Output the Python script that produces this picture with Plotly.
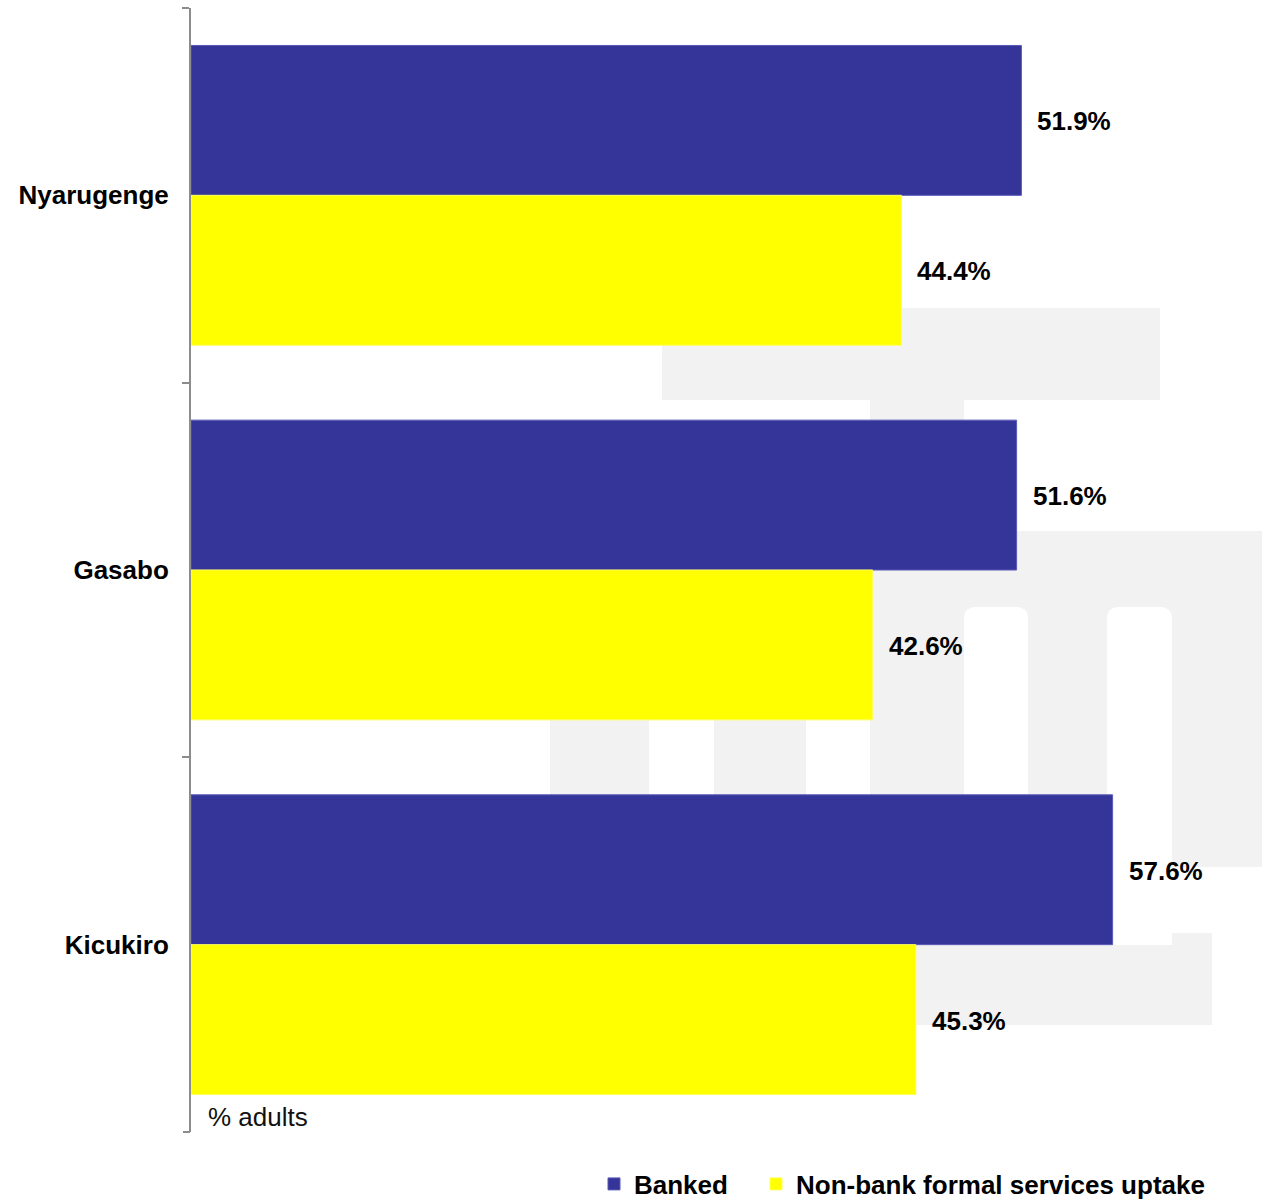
import plotly.graph_objects as go

# ---- data -------------------------------------------------------------
districts = ["Nyarugenge", "Gasabo", "Kicukiro"]
banked = [51.9, 51.6, 57.6]
non_bank = [44.4, 42.6, 45.3]
series_names = ["Banked", "Non-bank formal services uptake"]
unit_note = "% adults"

# ---- styling ----------------------------------------------------------
BLUE = "#353599"
YELLOW = "#FFFF00"
LOGO_GREY = "#F2F2F2"
AXIS_GREY = "#8C8C8C"
FONT = "Liberation Sans, Arial, Helvetica, sans-serif"

W, H = 1262, 1199
PLOT_L, PLOT_R, PLOT_T, PLOT_B = 191, 1262, 8, 1132
PX_PER_UNIT = 16.0
TICK_LEN = 7


def fx(px):
    return (px - PLOT_L) / (PLOT_R - PLOT_L)


def fy(py):
    return (PLOT_B - py) / (PLOT_B - PLOT_T)


fig = go.Figure()

fig.add_trace(go.Bar(
    name=series_names[0], y=districts, x=banked, orientation="h",
    marker=dict(color=BLUE, line=dict(color="#5A5AB8", width=1)),
    hoverinfo="skip", legend="legend",
))
fig.add_trace(go.Bar(
    name=series_names[1], y=districts, x=non_bank, orientation="h",
    marker=dict(color=YELLOW, line=dict(color="#FFFF55", width=1)),
    hoverinfo="skip", legend="legend2",
))

# value labels placed just beyond the end of each bar
label_font = dict(family=FONT, size=26, color="#000000")
for i, (b, n) in enumerate(zip(banked, non_bank)):
    for val, off in ((b, -0.2), (n, 0.2)):
        fig.add_annotation(
            x=val, y=i + off, xref="x", yref="y",
            text=f"<b>{val:.1f}%</b>", showarrow=False,
            xanchor="left", yanchor="middle", xshift=14, yshift=-1,
            font=label_font,
        )

fig.add_annotation(
    x=0, y=0, xref="paper", yref="paper", text=unit_note, showarrow=False,
    xanchor="left", yanchor="middle", xshift=15, yshift=15,
    font=dict(family=FONT, size=26, color="#111111"),
)

# faint background logo built from grey blocks with rounded white cut-outs
grey_blocks = [
    (662, 308, 1160, 400),
    (870, 398, 964, 535),
    (550, 531, 1262, 867),
    (550, 860, 1110, 940),
    (550, 933, 1212, 1025),
]
shapes = []
for x0, y0, x1, y1 in grey_blocks:
    shapes.append(dict(
        type="rect", xref="paper", yref="paper", layer="below",
        x0=fx(x0), x1=fx(x1), y0=fy(y1), y1=fy(y0),
        fillcolor=LOGO_GREY, line=dict(width=0),
    ))

holes = [(649, 714), (806, 870), (964, 1028), (1107, 1172)]
hole_top, hole_bottom, r = 607, 945, 12
for x0, x1 in holes:
    rx = r / (PLOT_R - PLOT_L)
    ry = r / (PLOT_B - PLOT_T)
    X0, X1 = fx(x0), fx(x1)
    Yt, Yb = fy(hole_top), fy(hole_bottom)
    path = (f"M{X0},{Yb} L{X0},{Yt - ry} Q{X0},{Yt} {X0 + rx},{Yt} "
            f"L{X1 - rx},{Yt} Q{X1},{Yt} {X1},{Yt - ry} L{X1},{Yb} Z")
    shapes.append(dict(
        type="path", xref="paper", yref="paper", layer="below",
        path=path, fillcolor="#FFFFFF", line=dict(width=0),
    ))
# right-hand column stops short of the lower block
shapes.append(dict(
    type="rect", xref="paper", yref="paper", layer="below",
    x0=fx(1113), x1=fx(1262), y0=fy(933), y1=fy(867),
    fillcolor="#FFFFFF", line=dict(width=0),
))
# closing tick at the lower end of the category axis
shapes.append(dict(
    type="line", xref="paper", yref="paper", layer="above",
    x0=fx(PLOT_L - 1 - TICK_LEN), x1=fx(PLOT_L - 1), y0=0, y1=0,
    line=dict(color=AXIS_GREY, width=2),
))

legend_common = dict(
    orientation="h", xref="container", yref="container",
    xanchor="left", yanchor="middle",
    font=dict(family=FONT, size=26, color="#000000", weight="bold"),
    bgcolor="rgba(0,0,0,0)",
    itemclick=False, itemdoubleclick=False,
)

fig.update_layout(
    width=W, height=H,
    margin=dict(l=PLOT_L, r=W - PLOT_R, t=PLOT_T, b=H - PLOT_B, pad=0,
                autoexpand=False),
    paper_bgcolor="#FFFFFF", plot_bgcolor="rgba(0,0,0,0)",
    barmode="group", bargap=0.2, bargroupgap=0,
    font=dict(family=FONT, size=26, color="#000000"),
    shapes=shapes,
    showlegend=True,
    legend=dict(x=594 / W, y=(H - 1184) / H, **legend_common),
    legend2=dict(x=756 / W, y=(H - 1184) / H, **legend_common),
    xaxis=dict(
        range=[0, (PLOT_R - PLOT_L) / PX_PER_UNIT], visible=False,
        showgrid=False, zeroline=False, fixedrange=True,
    ),
    yaxis=dict(
        type="category", autorange="reversed",
        showline=True, linecolor=AXIS_GREY, linewidth=2,
        ticks="outside", ticklen=TICK_LEN, tickwidth=2, tickcolor=AXIS_GREY,
        tickson="boundaries", ticklabelstandoff=15,
        tickfont=dict(family=FONT, size=26, color="#000000", weight="bold"),
        showgrid=False, zeroline=False, fixedrange=True,
    ),
)

fig.write_html("out.html", config={"displayModeBar": False})
